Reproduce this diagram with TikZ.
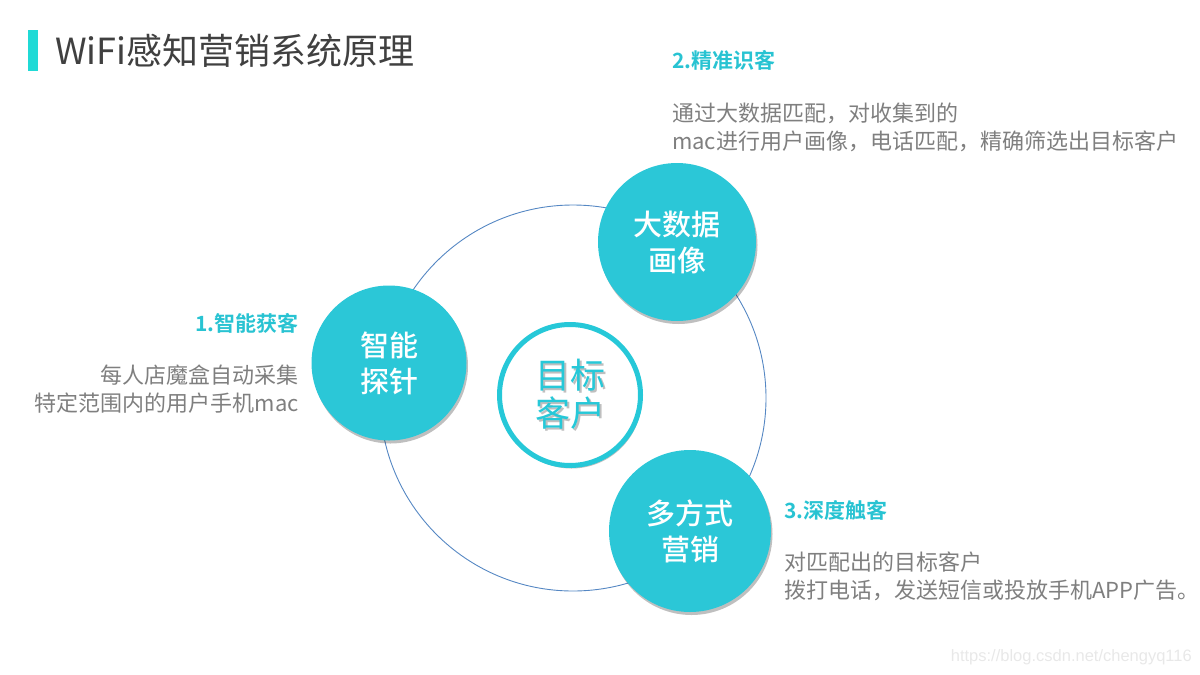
\documentclass[tikz,border=0pt]{standalone}
\usepackage{fontspec}
\setmainfont{Noto Sans CJK SC}[BoldFont={Noto Sans CJK SC Bold}]
\newfontfamily\mediumfont{Noto Sans CJK SC Medium}
\newfontfamily\wmfont{Liberation Sans}
\usetikzlibrary{shadows}
\definecolor{cyanfill}{RGB}{43,199,215}
\definecolor{titlebar}{RGB}{32,218,214}
\definecolor{titletext}{RGB}{64,64,64}
\definecolor{graytext}{RGB}{127,127,127}
\definecolor{headcyan}{RGB}{40,195,210}
\definecolor{ringcyan}{RGB}{38,200,216}
\definecolor{bigline}{RGB}{85,135,195}
\tikzset{
  stagecircle/.style={circle, fill=cyanfill, minimum size=#1, inner sep=0pt,
    text=white, align=center, font=\mediumfont\fontsize{29}{36}\selectfont,
    drop shadow={shadow xshift=1.5pt, shadow yshift=-3pt, opacity=0.25, fill=black}},
  header/.style={text=headcyan, font=\fontsize{21}{24}\selectfont\bfseries, inner sep=0pt},
  desc/.style={text=graytext, font=\fontsize{22}{28}\selectfont, inner sep=0pt},
}
\begin{document}
\begin{tikzpicture}[x=1pt,y=-1pt]
\useasboundingbox (0,0) rectangle (1200,675);
% title
\fill[titlebar] (28,30) rectangle (38,71);
\node[anchor=west, text=titletext, font=\fontsize{36}{40}\selectfont, inner sep=0pt] (title) at (55,51) {WiFi感知营销系统原理};
% big ring
\draw[bigline, line width=0.9pt] (573,398) circle[radius=193];
% center circle
\node[circle, draw=ringcyan, line width=5pt, fill=white, minimum size=141, inner sep=0pt,
  drop shadow={shadow xshift=1.5pt, shadow yshift=-3pt, opacity=0.25, fill=black}] (core) at (570,395) {};
\node[text=black, opacity=0.25, align=center, font=\fontsize{35}{38}\selectfont] at (572,396) {目标\\客户};
\node[text=ringcyan, align=center, font=\fontsize{35}{38}\selectfont] (coretext) at (570,394) {目标\\客户};
% stage circles
\node[stagecircle=155] (probe) at (389,363) {智能\\探针};
\node[stagecircle=158] (bigdata) at (677,242) {大数据\\画像};
\node[stagecircle=162] (market) at (690,531) {多方式\\营销};
% texts 1
\node[header, anchor=east] (h1) at (299,323) {1.智能获客};
\node[desc, anchor=east, align=right] (d1) at (299,389) {每人店魔盒自动采集\\特定范围内的用户手机mac};
% texts 2
\node[header, anchor=west] (h2) at (672,60) {2.精准识客};
\node[desc, anchor=west, align=left] (d2) at (672,127) {通过大数据匹配，对收集到的\\mac进行用户画像，电话匹配，精确筛选出目标客户};
% texts 3
\node[header, anchor=west] (h3) at (784,510) {3.深度触客};
\node[desc, anchor=west, align=left] (d3) at (784,576) {对匹配出的目标客户\\拨打电话，发送短信或投放手机APP广告。};
% watermark
\node[anchor=east, text=black!9, font=\wmfont\fontsize{16.5}{18}\selectfont, inner sep=0pt] (wm) at (1192,657) {https://blog.csdn.net/chengyq116};
\end{tikzpicture}
\end{document}
